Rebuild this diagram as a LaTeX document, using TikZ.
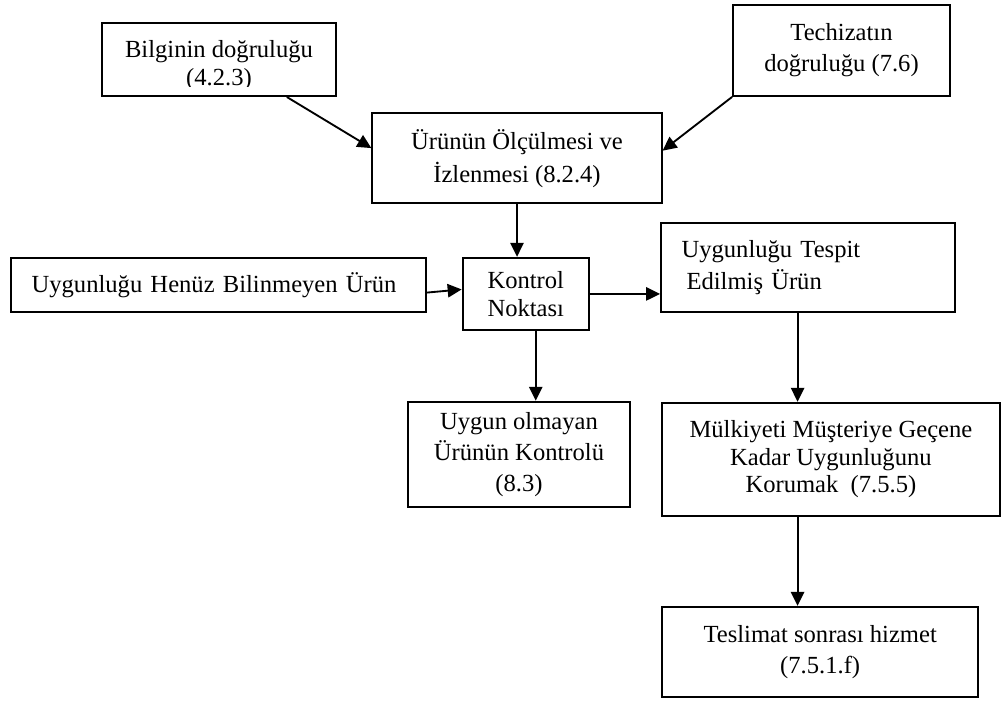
\documentclass[tikz,border=0pt]{standalone}
\usepackage{fontspec}
\setmainfont{Liberation Serif}
\usetikzlibrary{arrows.meta,calc}
\begin{document}
\begin{tikzpicture}[x=0.75pt,y=-0.75pt,
  box/.style={draw,line width=1.4pt,inner sep=0pt,align=center,font=\fontsize{18.45}{23.25}\selectfont},
  txt/.style={inner sep=0pt,align=center},
  arr/.style={line width=1.4pt,-{Triangle[length=10.5pt,width=10pt]}}]
\useasboundingbox (0,0) rectangle (1002,700);

% boxes
\node[box,minimum width=175.5pt,minimum height=55pt] (b1) at (219,59.4) {};
\begin{scope}
  \clip (103,24) rectangle (335,86.5);
  \node[txt,anchor=base,font=\fontsize{18.45}{21}\selectfont] (t1) at (219,85) {Bilginin doğruluğu\\(4.2.3)};
\end{scope}

\node[box,minimum width=162.75pt,minimum height=68.25pt] (b2) at (841.5,50.5) {Techizatın\\doğruluğu (7.6)};

\node[box,minimum width=217pt,minimum height=67.5pt,font=\fontsize{18.45}{24.75}\selectfont] (b3) at (517,158.3) {Ürünün Ölçülmesi ve\\İzlenmesi (8.2.4)};

\node[box,minimum height=40.5pt,inner xsep=15.45pt,text width=280.35pt,align=left] (b4) at (218.5,285.3) {Uygunluğu Henüz Bilinmeyen Ürün};

\node[box,minimum width=94.8pt,minimum height=54.2pt,font=\fontsize{18.45}{21}\selectfont] (b5) at (525.8,293.9) {Kontrol\\Noktası};

\node[box,minimum height=66.3pt,inner xsep=15.4pt,text width=189.7pt,align=left,font=\fontsize{18.45}{24}\selectfont] (b6) at (808,267.5) {Uygunluğu Tespit\\\hspace*{3.75pt}Edilmiş Ürün};

\node[box,minimum width=166.5pt,minimum height=79pt] (b7) at (519,454.35) {Uygun olmayan\\Ürünün Kontrolü\\(8.3)};

\node[box,minimum width=253.7pt,minimum height=85pt,font=\fontsize{18.45}{20.6}\selectfont] (b8) at (830.9,459.4) {Mülkiyeti Müşteriye Geçene\\Kadar Uygunluğunu\\Korumak\ \ (7.5.5)};

\node[box,minimum width=236.8pt,minimum height=67.7pt] (b9) at (820.2,651.9) {Teslimat sonrası hizmet\\(7.5.1.f)};

% connectors
\draw[arr] (b1.-29.7) -- (b3.176.4);
\draw[arr] (b2.south west) -- (b3.3.8);
\draw[arr] (b3.south) -- (b3.south |- b5.north);
\draw[arr] (b4.-2.4) -- (b5.176.4);
\draw[arr] (b5.east) -- (b5.east -| b6.west);
\draw[arr] (b5.-75.7) -- (b5.-75.7 |- b7.north);
\draw[arr] (b6.-103.1) -- (b6.-103.1 |- b8.north);
\draw[arr] (b6.-103.1 |- b8.south) -- (b6.-103.1 |- b9.north);
\end{tikzpicture}
\end{document}
